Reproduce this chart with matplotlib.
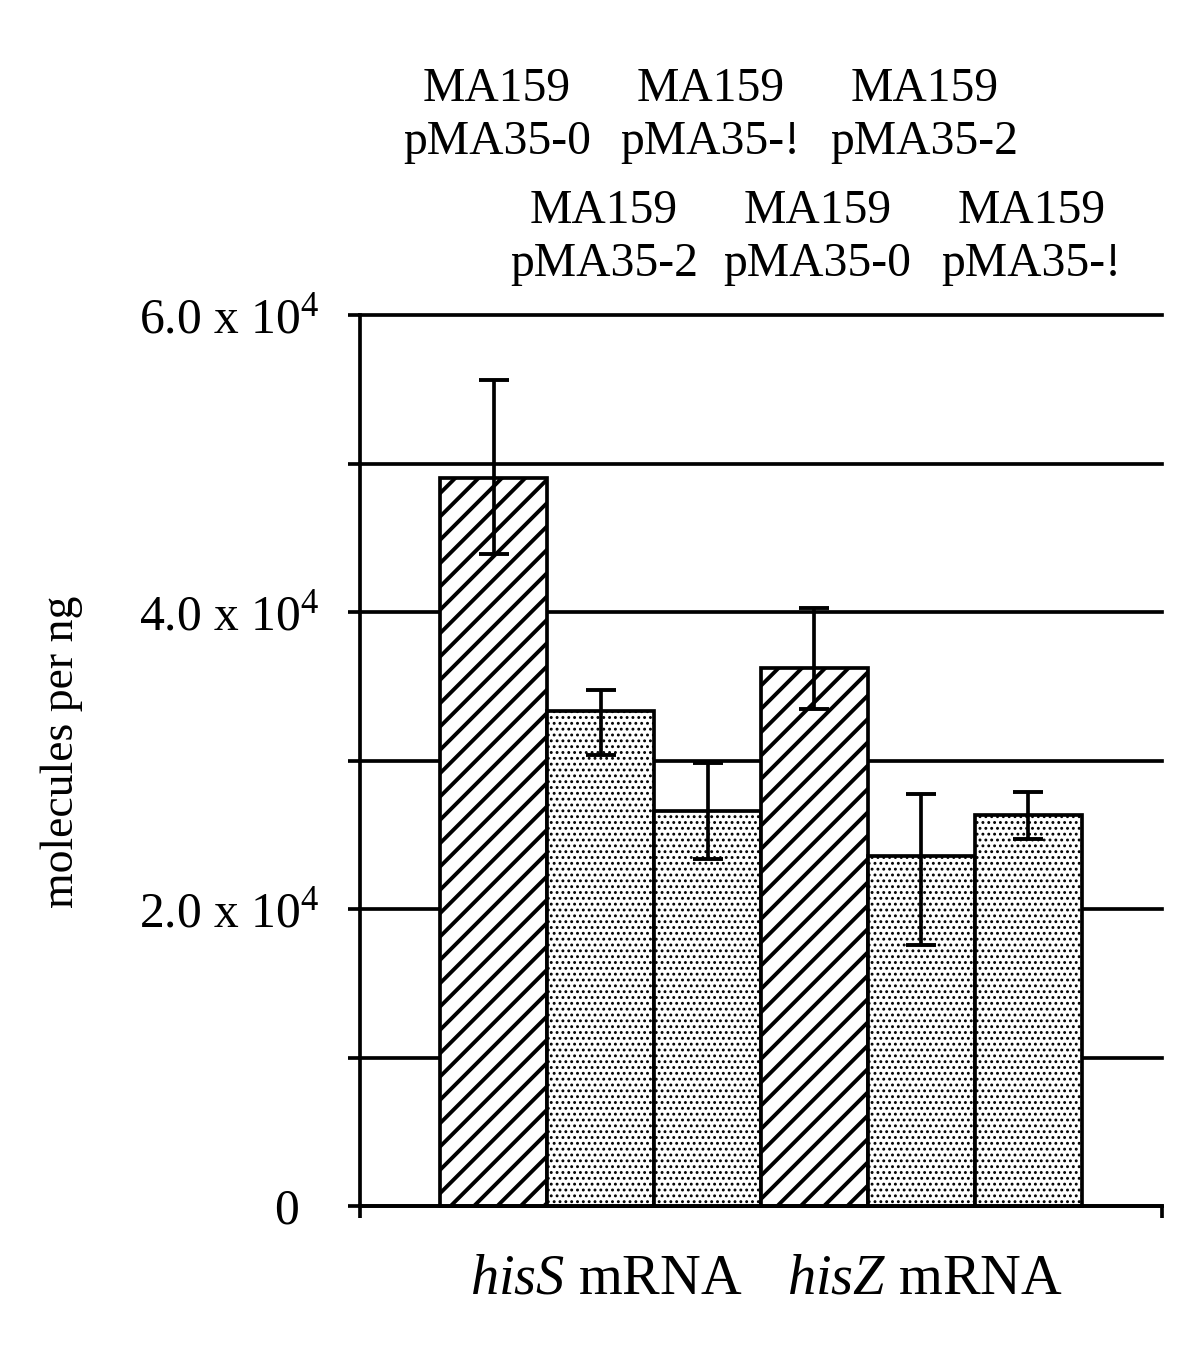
import matplotlib
matplotlib.use("Agg")
import matplotlib.pyplot as plt
import matplotlib.transforms as mtransforms
import matplotlib.patches as mpatches
import numpy as np

DPI = 70
plt.rcParams['font.family'] = ['Liberation Serif', 'DejaVu Serif']
plt.rcParams['mathtext.fontset'] = 'custom'
plt.rcParams['mathtext.rm'] = 'Liberation Serif'
plt.rcParams['mathtext.it'] = 'Liberation Serif:italic'
plt.rcParams['hatch.color'] = 'black'

# ---- data ----
strains = ["MA159\npMA35-0", "MA159\npMA35-2", "MA159\npMA35-!",
           "MA159\npMA35-0", "MA159\npMA35-2", "MA159\npMA35-!"]
groups = ["hisS", "hisZ"]
values = [49000, 33300, 26600, 36200, 23600, 26300]
err_low = [43900, 30400, 23400, 33500, 17600, 24700]
err_high = [55600, 34750, 29800, 40300, 27750, 27900]
hatches = ["/", "..", "..", "/", "..", ".."]
ytick_vals = [0, 10000, 20000, 30000, 40000, 50000, 60000]
ytick_labels = ["0", "", "2.0 x 10$^4$", "", "4.0 x 10$^4$", "", "6.0 x 10$^4$"]

fig = plt.figure(figsize=(1200 / DPI, 1362 / DPI), dpi=DPI)
ax = fig.add_axes([360 / 1200, 1 - 1206 / 1362, 802 / 1200, 891 / 1362])

x = np.arange(len(values))
vals = np.array(values, dtype=float)
yerr = np.vstack([vals - np.array(err_low), np.array(err_high) - vals])

lw = 3.8
bar_width = 1.0
for i in range(len(values)):
    hlw = 4.0 if hatches[i] == "/" else 1.8
    plt.rcParams['hatch.linewidth'] = hlw
    r = mpatches.Rectangle((x[i] - bar_width / 2, 0), bar_width, vals[i],
                           facecolor='white', edgecolor='black', linewidth=lw,
                           hatch=hatches[i], zorder=2)
    r.set_hatch_linewidth(hlw)
    ax.add_patch(r)
    r.set_clip_on(False)
plt.rcParams['hatch.linewidth'] = 1.8

ax.errorbar(x, vals, yerr=yerr, fmt='none', ecolor='black', elinewidth=3.8,
            capsize=15, capthick=4.0, zorder=3)

ax.set_xlim(-1.25, 6.25)
ax.set_ylim(0, 60000)
ax.set_yticks(ytick_vals)
ax.set_yticklabels(ytick_labels)
ax.set_xticks([-1.25, 6.25])
ax.set_xticklabels(["", ""])
ax.tick_params(axis='both', direction='out', length=12, width=3.8, color='black')
ax.tick_params(axis='y', labelsize=51, pad=30)
ax.set_axisbelow(True)
ax.yaxis.grid(True, color='black', linewidth=3.8)
for gl in ax.get_ygridlines():
    gl.set_clip_on(False)

for s in ['top', 'right']:
    ax.spines[s].set_visible(False)
for s in ['left', 'bottom']:
    ax.spines[s].set_linewidth(3.8)

# nudge "0" label left to line up like the original
zero_lab = ax.get_yticklabels()[0]
zero_lab.set_transform(zero_lab.get_transform() +
                       mtransforms.ScaledTranslation(-20 / DPI, 0, fig.dpi_scale_trans))

# group labels
trans = mtransforms.blended_transform_factory(ax.transData, ax.transAxes)
ax.text(1.05, -0.083, r"$\mathit{hisS}$ mRNA", transform=trans, ha='center', va='center', fontsize=58)
ax.text(4.03, -0.083, r"$\mathit{hisZ}$ mRNA", transform=trans, ha='center', va='center', fontsize=58)

# strain labels above bars, alternating rows
for i, lab in enumerate(strains):
    yrow = 1.2240 if i % 2 == 0 else 1.0870
    ax.text(x[i] + 0.03, yrow, lab, transform=trans, ha='center', va='center',
            multialignment='center', fontsize=49, linespacing=1.28)

fig.text(62 / 1200, 1 - 752 / 1362, "molecules per ng", rotation=90,
         ha='center', va='center', fontsize=47)

fig.savefig("out.png", dpi=DPI)
